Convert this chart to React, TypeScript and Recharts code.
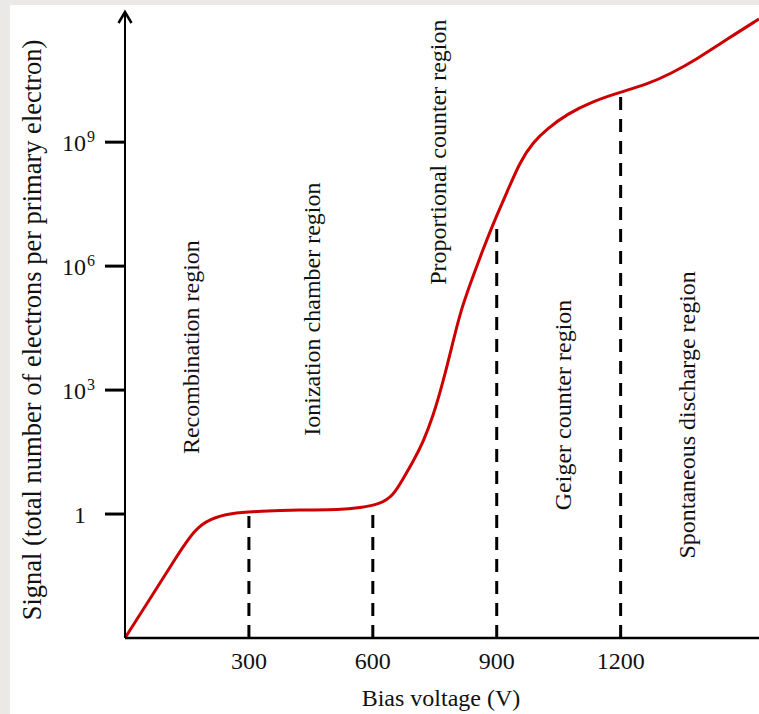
import {
  ComposedChart,
  Line,
  XAxis,
  YAxis,
  ReferenceLine,
  ReferenceDot,
} from "recharts";

// bias voltage (V) vs log10(signal)
const voltage = [
  0, 60, 121, 169, 206, 254, 327, 424, 521, 569, 617, 649, 673, 697, 722, 746,
  770, 794, 811, 835, 867, 896, 925, 956, 988, 1022, 1070, 1133, 1199, 1264,
  1320, 1385, 1465, 1535,
];
const logSignal = [
  -3, -2.06, -1.09, -0.36, -0.12, 0.02, 0.07, 0.1, 0.1, 0.15, 0.24, 0.44, 0.85,
  1.26, 1.74, 2.37, 3.19, 4.16, 4.85, 5.55, 6.41, 7.14, 7.79, 8.52, 9.0, 9.32,
  9.68, 9.99, 10.21, 10.4, 10.65, 11.01, 11.54, 11.98,
];

const xTicks = [300, 600, 900, 1200];
const yTicks = [0, 3, 6, 9];
const yTickBase = ["1", "10", "10", "10"];
const yTickExp = ["", "3", "6", "9"];

// region boundaries (dashed lines): voltage and top of the dash (log10 signal)
const boundaryV = [300, 600, 900, 1200];
const boundaryTop = [-0.05, 0.05, 7.1, 10.2];

const regionNames = [
  "Recombination region",
  "Ionization chamber region",
  "Proportional counter region",
  "Geiger counter region",
  "Spontaneous discharge region",
];
const regionV = [161, 452, 757, 1060, 1360];
const regionY = [4.04, 4.96, 8.76, 2.64, 2.4];

const data = voltage.map((v, i) => ({ v, s: logSignal[i] }));

const FONT = "'Liberation Serif', 'Times New Roman', serif";
const INK = "#111";

const YTick = (props: any) => {
  const { x, y, payload } = props;
  const i = yTicks.indexOf(payload.value);
  const bx = x - 17;
  return (
    <g>
      <text
        x={bx}
        y={y + 1}
        textAnchor="end"
        dominantBaseline="central"
        fontFamily={FONT}
        fontSize={24}
        fill={INK}
      >
        {yTickBase[i]}
      </text>
      {yTickExp[i] && (
        <text
          x={bx + 1}
          y={y - 6}
          textAnchor="start"
          dominantBaseline="central"
          fontFamily={FONT}
          fontSize={16}
          fill={INK}
        >
          {yTickExp[i]}
        </text>
      )}
    </g>
  );
};

const XTick = (props: any) => {
  const { x, y, payload } = props;
  return (
    <text
      x={x}
      y={y + 15}
      textAnchor="middle"
      dominantBaseline="central"
      fontFamily={FONT}
      fontSize={24}
      fill={INK}
    >
      {payload.value}
    </text>
  );
};

const RegionLabel = (text: string) => (props: any) => {
  const { cx, cy } = props;
  return (
    <text
      x={cx}
      y={cy}
      transform={`rotate(-90 ${cx} ${cy})`}
      textAnchor="middle"
      dominantBaseline="central"
      fontFamily={FONT}
      fontSize={24}
      fill={INK}
    >
      {text}
    </text>
  );
};

const Arrow = (props: any) => {
  const { cx, cy } = props;
  return (
    <path
      d={`M ${cx - 6.5} ${cy + 11} L ${cx} ${cy} L ${cx + 6.5} ${cy + 11}`}
      fill="none"
      stroke="#000"
      strokeWidth={2.5}
    />
  );
};

export default function App() {
  return (
    <div
      style={{
        position: "absolute",
        left: 0,
        top: 0,
        width: 759,
        height: 714,
        background: "#ebe9e6",
        overflow: "hidden",
      }}
    >
      <div
        style={{
          position: "absolute",
          left: 10,
          top: 5,
          width: 749,
          height: 709,
          background: "#fff",
        }}
      />
      <div style={{ position: "absolute", left: 0, top: 0 }}>
        <ComposedChart
          width={759}
          height={714}
          data={data}
          margin={{ top: 12, right: 0, bottom: 46, left: 65 }}
        >
          <XAxis
            dataKey="v"
            type="number"
            domain={[0, 1535]}
            ticks={xTicks}
            allowDataOverflow
            tickLine={false}
            axisLine={{ stroke: "#000", strokeWidth: 2.5 }}
            tick={<XTick />}
            height={30}
            label={() => (
              <text
                x={441}
                y={698}
                textAnchor="middle"
                dominantBaseline="central"
                fontFamily={FONT}
                fontSize={24}
                fill={INK}
              >
                Bias voltage (V)
              </text>
            )}
          />
          <YAxis
            type="number"
            domain={[-3, 12.15]}
            ticks={yTicks}
            allowDataOverflow
            width={60}
            tickSize={20}
            tickLine={{ stroke: "#000", strokeWidth: 3 }}
            axisLine={{ stroke: "#000", strokeWidth: 2 }}
            tick={<YTick />}
            label={() => (
              <text
                x={32}
                y={330}
                transform="rotate(-90 32 330)"
                textAnchor="middle"
                dominantBaseline="central"
                fontFamily={FONT}
                fontSize={26.5}
                fill={INK}
              >
                Signal (total number of electrons per primary electron)
              </text>
            )}
          />
          {boundaryV.map((v, i) => (
            <ReferenceLine
              key={v}
              segment={[
                { x: v, y: -3 },
                { x: v, y: boundaryTop[i] },
              ]}
              stroke="#000"
              strokeWidth={3}
              strokeDasharray="13 9"
            />
          ))}
          {regionNames.map((name, i) => (
            <ReferenceDot
              key={name}
              x={regionV[i]}
              y={regionY[i]}
              r={0}
              shape={RegionLabel(name)}
            />
          ))}
          <ReferenceDot
            x={0}
            y={12.15}
            r={0}
            ifOverflow="visible"
            shape={<Arrow />}
          />
          <Line
            type="basis"
            dataKey="s"
            stroke="#cc0000"
            strokeWidth={3}
            dot={false}
            isAnimationActive={false}
          />
        </ComposedChart>
      </div>
    </div>
  );
}
